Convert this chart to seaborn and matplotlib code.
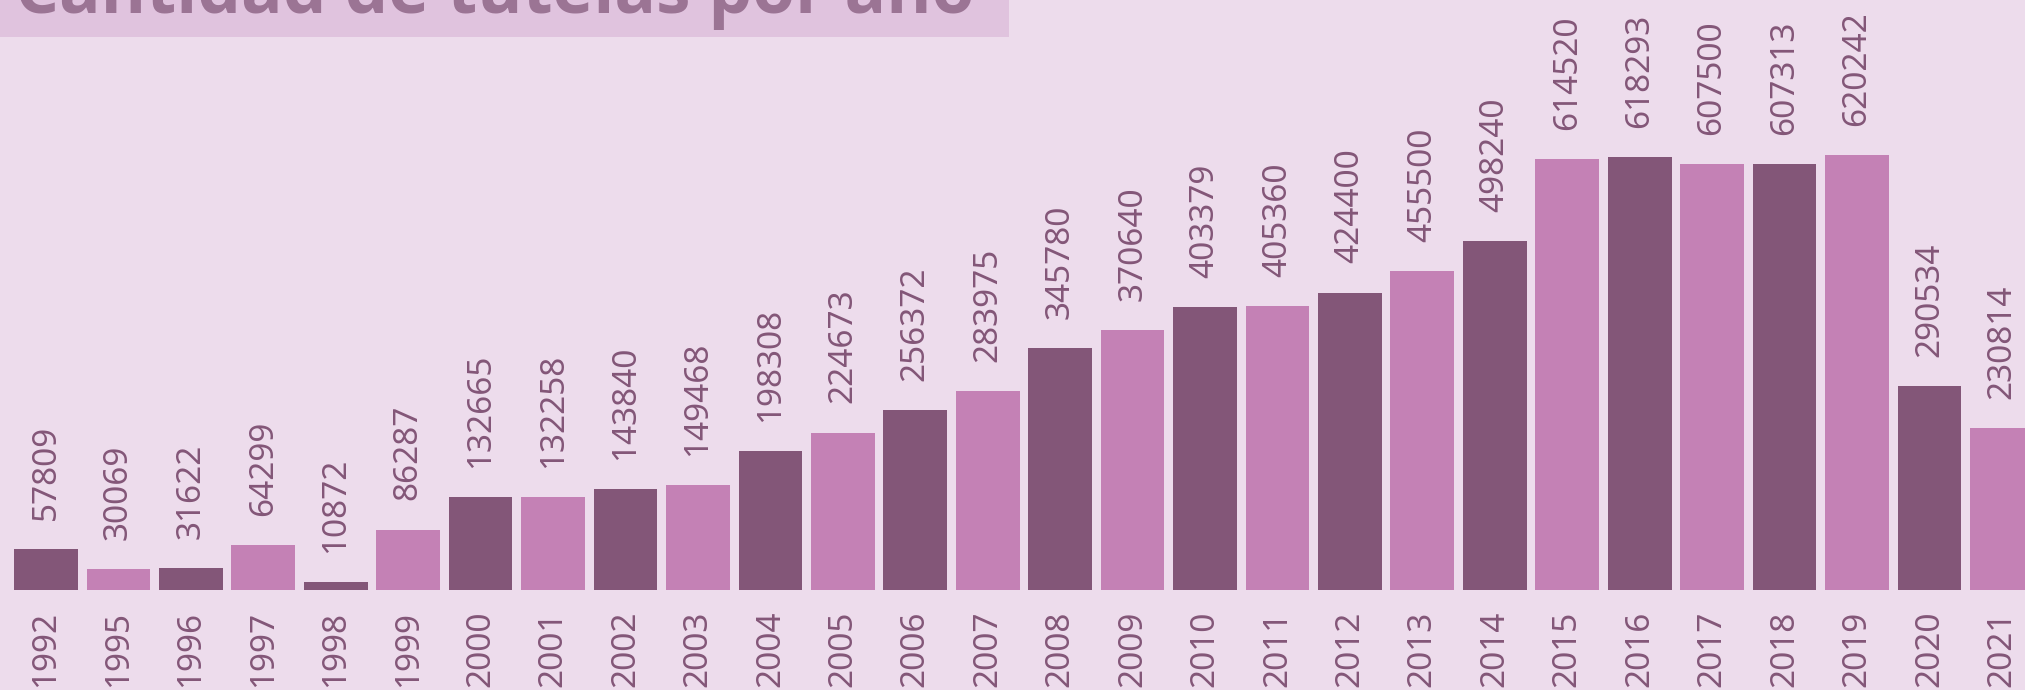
import matplotlib
matplotlib.use('Agg')
import matplotlib.pyplot as plt
import seaborn as sns
import pandas as pd
from matplotlib.patches import Rectangle

# --- datos ---
anios = ['1992', '1995', '1996', '1997', '1998', '1999', '2000', '2001', '2002', '2003',
         '2004', '2005', '2006', '2007', '2008', '2009', '2010', '2011', '2012', '2013',
         '2014', '2015', '2016', '2017', '2018', '2019', '2020', '2021']
tutelas = [57809, 30069, 31622, 64299, 10872, 86287, 132665, 132258, 143840, 149468,
           198308, 224673, 256372, 283975, 345780, 370640, 403379, 405360, 424400, 455500,
           498240, 614520, 618293, 607500, 607313, 620242, 290534, 230814]
titulo = 'Cantidad de tutelas por año'

# --- colores ---
fondo = '#eddcec'
caja = '#e0c3de'
oscuro = '#835678'
claro = '#c481b5'
color_titulo = '#9b7494'

df = pd.DataFrame({'anio': anios, 'tutelas': tutelas})
paleta = [oscuro if i % 2 == 0 else claro for i in range(len(anios))]

sns.set_style('white')
plt.rcParams['font.family'] = ['Noto Sans', 'DejaVu Sans']

W, H = 2025, 690
fig = plt.figure(figsize=(W / 100, H / 100), dpi=100)
fig.patch.set_facecolor(fondo)

base = 590  # pixel (desde arriba) de la linea base
ax = fig.add_axes([0, (H - base) / H, 1, base / H])
ax.set_facecolor(fondo)

sns.barplot(data=df, x='anio', y='tutelas', hue='anio', palette=paleta,
            legend=False, width=0.88, saturation=1, linewidth=0, ax=ax)

ax.set_xlim(-0.635, 27.32)
ax.set_ylim(0, 1427 * base)

for cont in ax.containers:
    ax.bar_label(cont, labels=[f'{int(b.get_height())}' for b in cont],
                 padding=21, rotation=90, fontsize=24, color=oscuro)

ax.tick_params(axis='x', length=0, pad=15, labelsize=24, labelcolor=oscuro, labelrotation=90)
ax.tick_params(axis='y', left=False, labelleft=False)
for lab in ax.get_xticklabels():
    lab.set_va('top')
ax.set_xlabel('')
ax.set_ylabel('')
sns.despine(ax=ax, left=True, bottom=True)

# --- caja del titulo (cortada arriba, como en el original) ---
fig.patches.append(Rectangle((0, 1 - 37 / H), 1009 / W, 37 / H, transform=fig.transFigure,
                             facecolor=caja, edgecolor='none', zorder=0))
t = fig.text(15 / W, 1 - 13 / H, titulo, ha='left', va='baseline', fontsize=48,
             fontweight='bold', color=color_titulo, family=['Open Sans', 'DejaVu Sans'], zorder=3)

# ajusto el tamaño del titulo al ancho del original
fig.canvas.draw()
ancho = t.get_window_extent().width
t.set_fontsize(48 * 958 / ancho)

fig.savefig('out.png', dpi=100, facecolor=fondo)
